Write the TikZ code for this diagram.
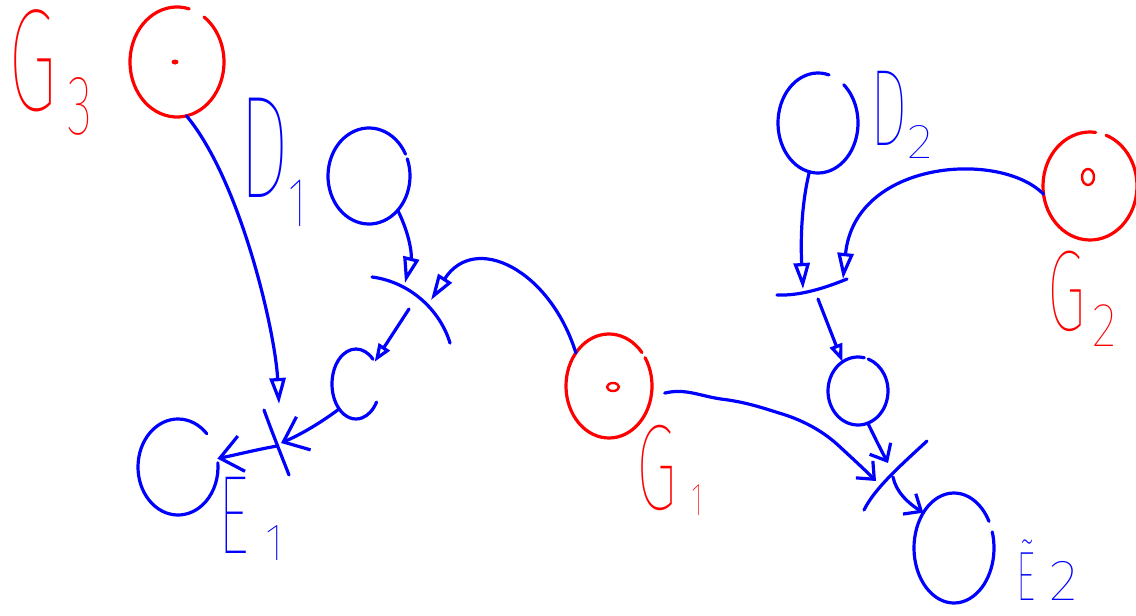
\documentclass[tikz,border=0pt]{standalone}
\usepackage{fontspec}
\setmainfont{Fira Sans Thin}
\usetikzlibrary{arrows.meta,shapes.geometric}
\definecolor{inkblue}{RGB}{0,0,255}
\definecolor{inkred}{RGB}{255,0,0}
% hand-lettered label: narrow letter, then a lowered subscript
% #1 letter, #2 subscript, #3/#4 subscript x/y scale, #5 drop (em), #6 gap (em)
\newcommand\hl[6]{\scalebox{.55}[1]{#1}\hspace{#6em}\raisebox{-#5em}{\scalebox{#3}[#4]{#2}}}
% outline of a place, left open between two angles (visual degrees)
\newcommand\handring[6]{%
  \draw[ink,#6] (#1.center) ++(-#4:#2 and #3)
    arc[start angle=-#4, end angle=-#5, x radius=#2, y radius=#3];}
\tikzset{
  ink/.style={line width=3.2pt, line cap=round, line join=round},
  bl/.style={ink, draw=inkblue},
  rd/.style={ink, draw=inkred},
  place/.style 2 args={ellipse, inner sep=0pt, outer sep=0pt,
    minimum width=#1, minimum height=#2},
  lab/.style={inner sep=0pt, anchor=base west, text=#1},
  tri/.style={-{Triangle[open,length=26pt,width=16pt]}},
  smalltri/.style={-{Triangle[open,length=18pt,width=13pt]}},
  barb/.style={-{Straight Barb[length=22pt,width=36pt]}},
  smallbarb/.style={-{Straight Barb[length=14pt,width=24pt]}},
}
\begin{document}
\begin{tikzpicture}[x=1pt,y=-1pt]
\useasboundingbox (0,0) rectangle (1136,616);

% places
\node[place={94pt}{110pt}] (g3) at (177,62) {};
\node[place={82pt}{96pt}]  (d1) at (369,176) {};
\node[place={48pt}{70pt}]  (cc) at (356,384) {};
\node[place={80pt}{96pt}]  (e1) at (178,467) {};
\node[place={86pt}{104pt}] (g1) at (609,386) {};
\node[place={80pt}{100pt}] (d2) at (818,123) {};
\node[place={94pt}{108pt}] (g2) at (1090,186) {};
\node[place={60pt}{68pt}]  (sm) at (858,391) {};
\node[place={80pt}{110pt}] (e2) at (954,548) {};

\handring{g3}{47}{55}{75}{415}{draw=inkred}
\handring{d1}{41}{48}{27}{381}{draw=inkblue}
\handring{cc}{24}{35}{45}{329}{draw=inkblue}
\handring{e1}{40}{48}{44}{365}{draw=inkblue}
\handring{g1}{43}{52}{40}{393}{draw=inkred}
\handring{d2}{40}{50}{74}{410}{draw=inkblue}
\handring{g2}{47}{54}{83}{430}{draw=inkred}
\handring{sm}{30}{34}{78}{430}{draw=inkblue}
\handring{e2}{40}{55}{29}{377}{draw=inkblue}

% tokens
\fill[inkred] (175,62) ellipse [x radius=3.5, y radius=2.5];
\draw[rd, line width=2.4pt] (613,387) ellipse [x radius=6, y radius=4];
\draw[rd, line width=2.4pt] (1088,177) ellipse [x radius=6, y radius=8];

% transitions
\draw[bl] (372,277) .. controls (410,282) and (440,310) .. (450,343);
\draw[bl] (264,410) .. controls (272,432) and (280,452) .. (289,475);
\draw[bl] (777,295) .. controls (800,296) and (825,288) .. (847,279);
\draw[bl] (927,441) .. controls (900,466) and (875,488) .. (864,510);

\coordinate (t1d) at (405,283);
\coordinate (t1g) at (431,300);
\coordinate (t1o) at (409,309);
\coordinate (t2g) at (279,404);
\coordinate (t2c) at (281,443);
\coordinate (t2e) at (277,446);
\coordinate (t3d) at (803,289);
\coordinate (t3g) at (843,279);
\coordinate (t3o) at (818,299);
\coordinate (t4s) at (888,463);
\coordinate (t4g) at (876,481);
\coordinate (t4o) at (893,477);

% arcs
\draw[bl, tri] (g3.-80) .. controls (240,180) and (275,330) .. (t2g);
\draw[bl, barb] (cc.236) .. controls (315,427) and (295,437) .. (t2c);
\draw[bl, barb] (t2e) .. controls (255,450) and (235,455) .. (e1.12);
\draw[bl, tri] (d1.-50) .. controls (410,235) and (412,255) .. (t1d);
\draw[bl, tri] (g1.135) .. controls (550,270) and (475,232) .. (t1g);
\draw[bl, smalltri] (t1o) -- (cc.50);
\draw[bl, tri] (d2.-100) .. controls (800,210) and (801,250) .. (t3d);
\draw[bl, tri] (g2.190) .. controls (1000,150) and (855,160) .. (t3g);
\draw[bl, smalltri] (t3o) -- (sm.118);
\draw[bl, smallbarb] (sm.-73) .. controls (875,438) and (882,452) .. (t4s);
\draw[bl, smallbarb, shorten <=14pt] (g1.-14)
  .. controls (685,388) and (700,396) .. (721,399)
  .. controls (745,402) and (760,407) .. (779,413)
  .. controls (800,419) and (822,430) .. (839,446)
  .. controls (852,458) and (865,470) .. (t4g);
\draw[bl, smallbarb] (t4o) .. controls (896,492) and (908,503) .. (e2.131);

% labels
\node[lab=inkred, font=\fontsize{146}{146}\selectfont] (g3lab) at (8,110)
  {\hl{G}{3}{.36}{.58}{.17}{.07}};
\node[lab=inkblue, font=\fontsize{146}{146}\selectfont] (d1lab) at (239,197)
  {\hl{D}{1}{.32}{.48}{.2}{0}};
\node[lab=inkblue, font=\fontsize{112}{112}\selectfont] (e1lab) at (218,553)
  {\hl{E}{1}{.42}{.47}{.07}{.15}};
\node[lab=inkred, font=\fontsize{122}{122}\selectfont] (g1lab) at (636,509)
  {\hl{G}{1}{.25}{.38}{.05}{.12}};
\node[lab=inkblue, font=\fontsize{109}{109}\selectfont] (d2lab) at (870,145)
  {\hl{D}{2}{.5}{.45}{.12}{0}};
\node[lab=inkred, font=\fontsize{115}{115}\selectfont] (g2lab) at (1047,330)
  {\hl{G}{2}{.45}{.54}{.14}{.06}};
\node[lab=inkblue, font=\fontsize{70}{70}\selectfont] (e2lab) at (1016,600)
  {\hl{\~E}{2}{.87}{.83}{0}{.2}};
\end{tikzpicture}
\end{document}
